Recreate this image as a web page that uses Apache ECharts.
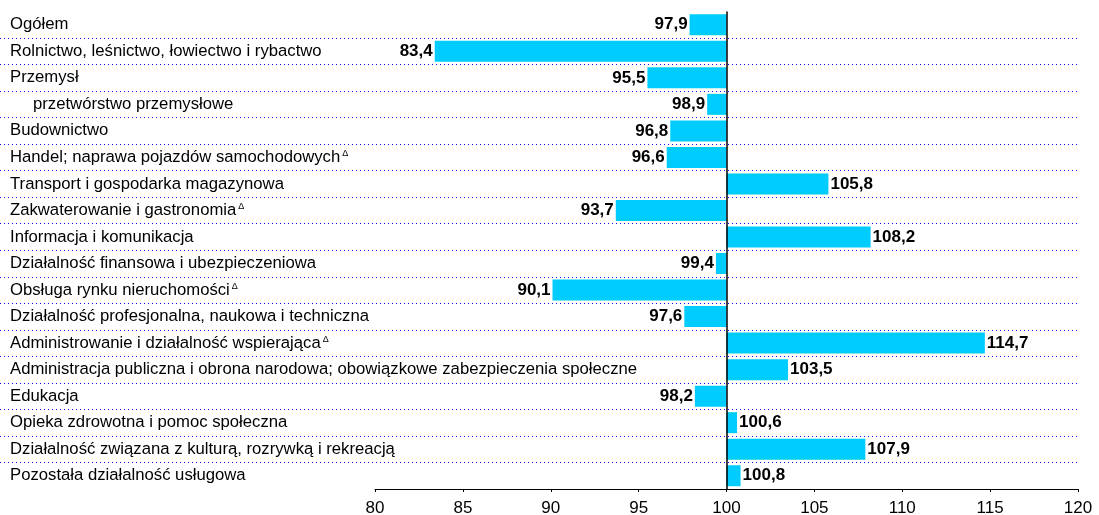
<!DOCTYPE html>
<html>
<head>
<meta charset="utf-8">
<script src="https://cdn.jsdelivr.net/npm/echarts@6/dist/echarts.min.js"></script>
<style>
  html, body { margin: 0; padding: 0; background: #fff; }
  #main { width: 1099px; height: 515px; }
</style>
</head>
<body>
<div id="main"></div>
<script>
// kategorie (Δ = przypis)
const categories = [
  'Ogółem',
  'Rolnictwo, leśnictwo, łowiectwo i rybactwo',
  'Przemysł',
  'przetwórstwo przemysłowe',
  'Budownictwo',
  'Handel; naprawa pojazdów samochodowych',
  'Transport i gospodarka magazynowa',
  'Zakwaterowanie i gastronomia',
  'Informacja i komunikacja',
  'Działalność finansowa i ubezpieczeniowa',
  'Obsługa rynku nieruchomości',
  'Działalność profesjonalna, naukowa i techniczna',
  'Administrowanie i działalność wspierająca',
  'Administracja publiczna i obrona narodowa; obowiązkowe zabezpieczenia społeczne',
  'Edukacja',
  'Opieka zdrowotna i pomoc społeczna',
  'Działalność związana z kulturą, rozrywką i rekreacją',
  'Pozostała działalność usługowa'
]
const values = [97.9, 83.4, 95.5, 98.9, 96.8, 96.6, 105.8, 93.7, 108.2, 99.4, 90.1, 97.6, 114.7, 103.5, 98.2, 100.6, 107.9, 100.8]
const footnoted = [5, 7, 10, 12]
const subcategories = [3]
const baseValue = 100
const tickLabels = [80, 85, 90, 95, 100, 105, 110, 115, 120]

const fontFamily = "'Liberation Sans', Arial, sans-serif"
const myChart = echarts.init(document.getElementById('main'))

myChart.setOption({
  animation: false,
  textStyle: { fontFamily: fontFamily },
  grid: [
    // cała szerokość: nazwy i kropkowane linie
    { left: 0, right: 19, top: 11.5, bottom: 26, outerBoundsMode: 'none' },
    // słupki
    { left: 375, right: 21, top: 11.5, bottom: 26, outerBoundsMode: 'none' }
  ],
  xAxis: [
    { gridIndex: 0, type: 'value', show: false, min: 0, max: 1 },
    {
      gridIndex: 1,
      type: 'value',
      min: tickLabels[0] - baseValue,
      max: tickLabels[tickLabels.length - 1] - baseValue,
      interval: tickLabels[1] - tickLabels[0],
      splitLine: { show: false },
      axisLine: { show: true, lineStyle: { color: '#000', width: 1 } },
      axisTick: { show: true, length: 3, lineStyle: { color: '#000' } },
      axisLabel: {
        color: '#000',
        fontSize: 17,
        margin: 11,
        formatter: v => String(v + baseValue)
      }
    }
  ],
  yAxis: [
    {
      gridIndex: 0,
      type: 'category',
      inverse: true,
      data: categories,
      axisLine: { show: false },
      axisTick: { show: false },
      splitLine: {
        show: true,
        showMinLine: false,
        showMaxLine: false,
        lineStyle: { color: '#1010f0', width: 1, type: [1, 3] }
      },
      axisLabel: {
        align: 'left',
        margin: -10,
        color: '#000',
        fontSize: 16.7,
        formatter: (name, idx) => {
          let s = subcategories.includes(idx) ? '{ind|' + name + '}' : '{n|' + name + '}'
          if (footnoted.includes(idx)) s += '{sup|Δ}'
          return s
        },
        rich: {
          n: { fontSize: 16.7, color: '#000' },
          ind: { fontSize: 16.7, color: '#000', padding: [0, 0, 0, 23] },
          sup: { fontSize: 9, color: '#000', verticalAlign: 'top', padding: [0, 0, 8, 2] }
        }
      }
    },
    {
      gridIndex: 1,
      type: 'category',
      inverse: true,
      data: categories,
      axisLine: { show: false },
      axisTick: { show: false },
      axisLabel: { show: false },
      splitLine: { show: false }
    }
  ],
  series: [
    {
      type: 'bar',
      xAxisIndex: 1,
      yAxisIndex: 1,
      barWidth: 21,
      itemStyle: { color: '#00ccff' },
      data: values.map((v, i) => ({
        value: v - baseValue,
        label: { position: v < baseValue ? 'left' : 'right' }
      })),
      label: {
        show: true,
        distance: 2,
        color: '#000',
        fontSize: 17,
        fontWeight: 'bold',
        formatter: p => values[p.dataIndex].toFixed(1).replace('.', ',')
      },
      markLine: {
        silent: true,
        symbol: 'none',
        label: { show: false },
        lineStyle: { color: '#000', width: 1.5, type: 'solid' },
        data: [{ xAxis: 0 }]
      }
    }
  ]
})
</script>
</body>
</html>
